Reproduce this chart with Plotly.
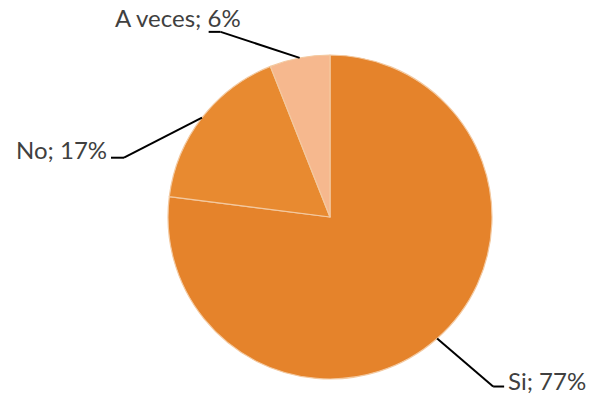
import math
import plotly.graph_objects as go

# Survey answers and their shares (percent)
labels = ["Si", "No", "A veces"]
values = [77, 17, 6]
colors = ["#E5832B", "#E88A30", "#F6B88E"]

W, H = 592, 397
cx, cy, r = 330, 217, 162          # pie centre and radius in pixels

# Leader-line elbow offsets (pixels, relative to the slice edge point):
# dx, dy to the elbow, then a horizontal stub (+ right / - left)
elbows = {
    "Si": (56, 48, 11),
    "No": (-78, 40, -13),
    "A veces": (-79, -26, -12),
}
# Label placement relative to the end of the stub: dx, dy, anchor
label_pos = {
    "Si": (2, -6, "left"),
    "No": (-2, -8, "right"),
    "A veces": (34, -14, "right"),
}

fig = go.Figure(go.Pie(
    labels=labels,
    values=values,
    sort=False,
    direction="clockwise",
    rotation=0,
    textinfo="none",
    hoverinfo="label+percent",
    marker=dict(colors=colors, line=dict(color="#F3C9A0", width=1.2)),
    domain=dict(x=[(cx - r) / W, (cx + r) / W], y=[1 - (cy + r) / H, 1 - (cy - r) / H]),
    showlegend=False,
))

def px(x, y):
    return x / W, 1 - y / H

total = sum(values)
start = 0.0
shapes, annotations = [], []
for lab, val in zip(labels, values):
    frac = val / total
    mid = (start + frac / 2) * 2 * math.pi
    start += frac
    ex = cx + r * math.sin(mid)
    ey = cy - r * math.cos(mid)
    dx, dy, stub = elbows[lab]
    bx, by = ex + dx, ey + dy
    tx = bx + stub
    for (x0, y0, x1, y1) in [(ex, ey, bx, by), (bx, by, tx, by)]:
        a0, b0 = px(x0, y0)
        a1, b1 = px(x1, y1)
        shapes.append(dict(type="line", xref="paper", yref="paper",
                           x0=a0, y0=b0, x1=a1, y1=b1,
                           line=dict(color="#000000", width=2)))
    ldx, ldy, anchor = label_pos[lab]
    ax, ay = px(tx + ldx, by + ldy)
    annotations.append(dict(text=f"{lab}; {val}%", x=ax, y=ay,
                            xref="paper", yref="paper",
                            xanchor=anchor, yanchor="middle", showarrow=False,
                            font=dict(family="Lato, 'Open Sans', sans-serif",
                                      size=24, color="#404040")))

fig.update_layout(
    width=W, height=H,
    margin=dict(l=0, r=0, t=0, b=0),
    paper_bgcolor="white",
    plot_bgcolor="white",
    shapes=shapes,
    annotations=annotations,
)

fig.write_html("out.html")
